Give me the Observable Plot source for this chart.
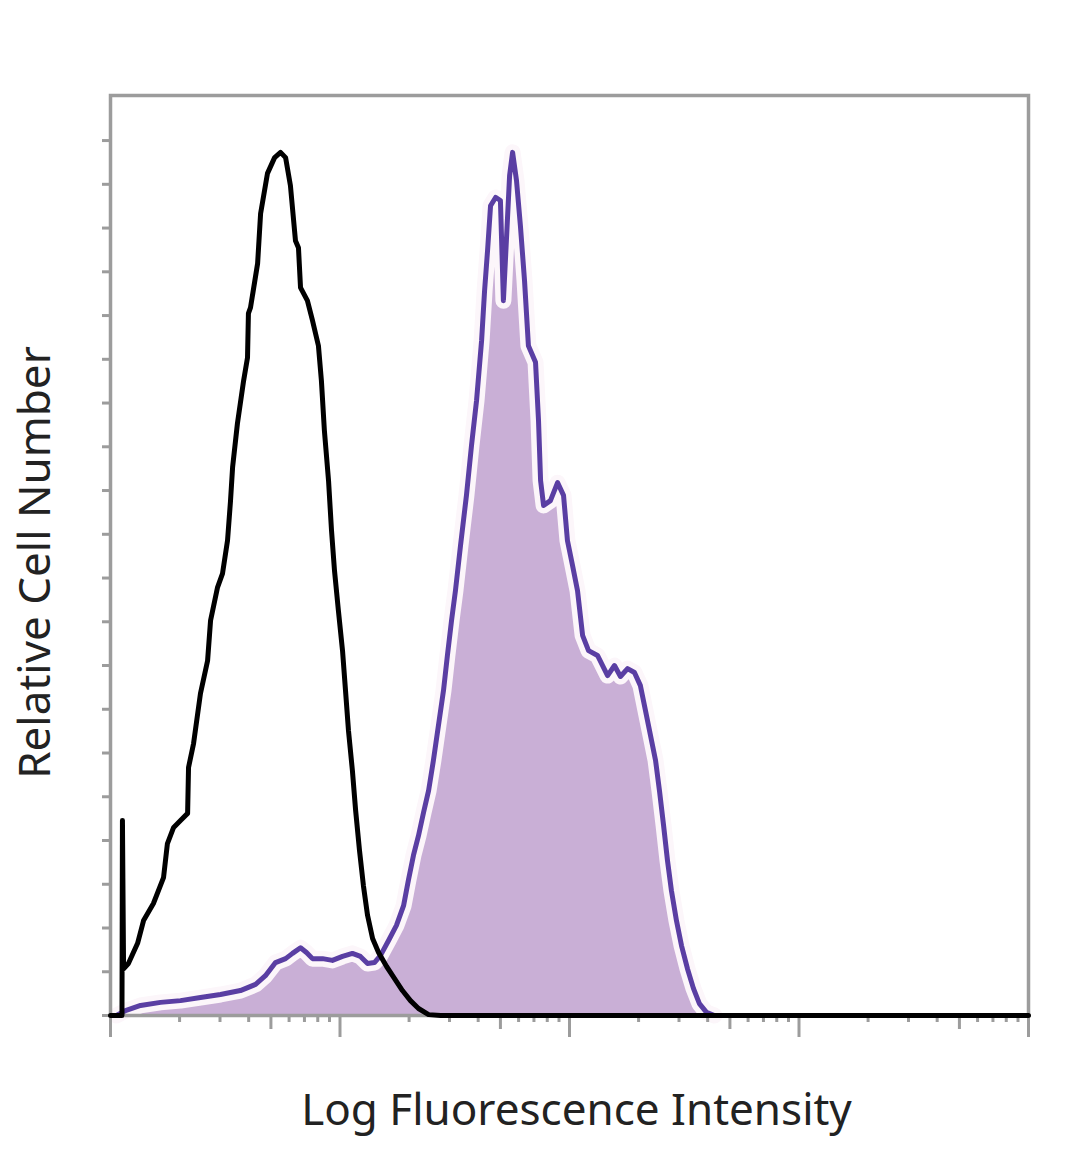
<!DOCTYPE html>
<html>
<head>
<meta charset="utf-8">
<script src="https://cdn.jsdelivr.net/npm/d3@7"></script>
<script src="https://cdn.jsdelivr.net/npm/@observablehq/plot@0.6"></script>
<style>
  html, body { margin: 0; padding: 0; background: #fff; }
  #chart { width: 1080px; height: 1169px; }
</style>
</head>
<body>
<div id="chart"></div>
<script>
// Isotype control (black outline): log10 fluorescence intensity and relative cell count
const isoLog = [0, 0.044, 0.050, 0.052, 0.057, 0.078, 0.118, 0.144, 0.187, 0.231, 0.248, 0.275, 0.305, 0.336, 0.340,
  0.362, 0.392, 0.423, 0.436, 0.466, 0.488, 0.510, 0.523, 0.532, 0.553, 0.580, 0.597, 0.601, 0.610, 0.641,
  0.654, 0.684, 0.715, 0.741, 0.763, 0.784, 0.806, 0.819, 0.828, 0.858, 0.880, 0.906, 0.919, 0.932, 0.950,
  0.963, 0.976, 0.993, 1.011, 1.024, 1.037, 1.054, 1.068, 1.085, 1.102, 1.120, 1.142, 1.168, 1.203, 1.237,
  1.272, 1.307, 1.342, 1.386, 1.438, 4];
const isoCount = [0, 0, 0, 44.6, 10.7, 11.9, 16.5, 21.7, 25.6, 31.5, 39.3, 43.0, 44.6, 46.2, 56.7,
  62.2, 73.6, 81.1, 90.3, 97.8, 101.0, 108.6, 117.7, 125.3, 135.3, 145.1, 150.4, 160.5, 161.8, 171.9,
  183.3, 192.5, 196.1, 197.3, 196.1, 189.7, 177.1, 175.5, 166.4, 163.4, 158.9, 153.1, 145.1, 133.7, 122.3,
  110.9, 101.7, 92.6, 83.4, 74.3, 65.1, 56.0, 46.9, 37.7, 29.7, 22.9, 17.6, 14.4, 11.2, 8.5,
  5.7, 3.4, 1.6, 0.2, 0, 0];

// Stained sample (purple filled histogram)
const stainLog = [0.026, 0.065, 0.131, 0.218, 0.305, 0.392, 0.479, 0.566, 0.632, 0.675, 0.719, 0.763, 0.793, 0.828,
  0.854, 0.880, 0.924, 0.967, 1.011, 1.054, 1.089, 1.120, 1.150, 1.176, 1.211, 1.246, 1.277, 1.298, 1.320,
  1.342, 1.364, 1.386, 1.407, 1.429, 1.451, 1.468, 1.486, 1.503, 1.525, 1.551, 1.573, 1.595, 1.617, 1.630,
  1.643, 1.656, 1.678, 1.699, 1.712, 1.725, 1.739, 1.752, 1.769, 1.786, 1.804, 1.821, 1.852, 1.865, 1.874,
  1.887, 1.917, 1.948, 1.974, 1.991, 2.013, 2.035, 2.057, 2.083, 2.122, 2.166, 2.196, 2.222, 2.253, 2.283,
  2.309, 2.331, 2.353, 2.375, 2.392, 2.410, 2.427, 2.444, 2.466, 2.488, 2.514, 2.540, 2.566, 2.597, 2.632];
const stainCount = [0, 1.1, 2.3, 3.0, 3.4, 4.1, 4.8, 5.7, 7.1, 9.1, 12.1, 13.0, 14.2, 15.5,
  14.4, 13.0, 13.0, 12.6, 13.5, 14.2, 13.5, 11.9, 12.1, 13.7, 17.1, 20.6, 25.1, 30.9, 36.6,
  41.1, 46.4, 51.4, 58.3, 66.3, 74.3, 82.3, 90.3, 97.1, 107.4, 118.9, 130.3, 140.6, 154.3, 165.7,
  174.9, 185.1, 187.0, 186.3, 163.4, 177.1, 192.0, 197.3, 190.9, 180.6, 168.0, 153.1, 149.3, 136.0, 122.3,
  116.6, 117.7, 121.8, 118.9, 108.6, 102.9, 97.1, 86.9, 83.4, 82.3, 77.7, 80.0, 77.5, 79.3, 78.4,
  75.4, 69.7, 64.0, 58.3, 51.4, 43.4, 35.4, 28.6, 21.7, 16.0, 10.7, 6.2, 2.7, 0.7, 0];

// Axis ticks
const decadeTicks = [1, 10, 100, 1000, 10000];
const fiveTicks = [5, 50, 500, 5000];
const minorTicks = [2, 3, 4, 6, 7, 8, 9].flatMap(m => [1, 10, 100, 1000].map(d => m * d));
const yTicks = d3.range(0, 201, 10);

const xLabel = "Log Fluorescence Intensity";
const yLabel = "Relative Cell Number";

const iso = isoLog.map((l, i) => ({x: 10 ** l, y: isoCount[i]}));
const stain = stainLog.map((l, i) => ({x: 10 ** l, y: stainCount[i]}));

const gray = "#9c9c9c";
const font = "'Noto Sans', 'Open Sans', sans-serif";

const chart = Plot.plot({
  width: 1080,
  height: 1169,
  marginLeft: 110,
  marginRight: 52,
  marginTop: 95,
  marginBottom: 154,
  style: {background: "#fff", fontFamily: font},
  x: {type: "log", domain: [1, 10000], axis: null},
  y: {domain: [0, 210.3], axis: null},
  marks: [
    Plot.areaY(stain, {x: "x", y: "y", fill: "#c9afd6"}),
    Plot.lineY(stain, {x: "x", y: "y", stroke: "#fcf6fa", strokeWidth: 16, strokeLinejoin: "round"}),
    Plot.lineY(stain, {x: "x", y: "y", stroke: "#5a3ea3", strokeWidth: 5, strokeLinejoin: "round"}),
    Plot.frame({stroke: gray, strokeWidth: 3.5}),
    Plot.axisY({ticks: yTicks, tickSize: 8, tickFormat: () => "", stroke: gray, strokeWidth: 3, label: null}),
    Plot.axisX({ticks: decadeTicks, tickSize: 22, tickFormat: () => "", stroke: gray, strokeWidth: 3, label: null}),
    Plot.axisX({ticks: fiveTicks, tickSize: 14, tickFormat: () => "", stroke: gray, strokeWidth: 3, label: null}),
    Plot.axisX({ticks: minorTicks, tickSize: 7, tickFormat: () => "", stroke: gray, strokeWidth: 3, label: null}),
    Plot.lineY(iso, {x: "x", y: "y", stroke: "#000", strokeWidth: 5, strokeLinejoin: "round"}),
    Plot.text([xLabel], {text: d => d, frameAnchor: "bottom", textAnchor: "middle", dy: 109, dx: 7, fontSize: 44, fill: "#222"}),
    Plot.text([yLabel], {text: d => d, frameAnchor: "left", textAnchor: "middle", rotate: -90, dx: -75, dy: 7, fontSize: 44, fill: "#222"})
  ]
});
document.getElementById("chart").appendChild(chart);
</script>
</body>
</html>
